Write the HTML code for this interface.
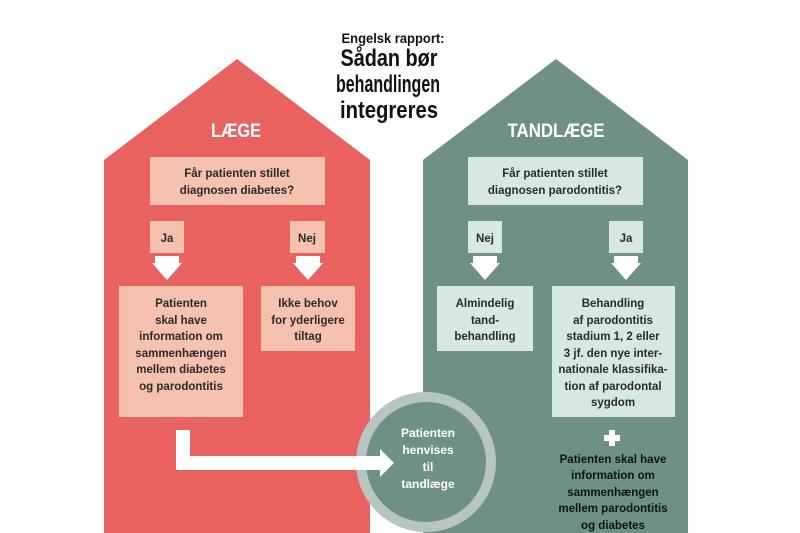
<!DOCTYPE html>
<html><head><meta charset="utf-8"><style>
body{margin:0;background:#fff;}
svg{display:block}
text{font-family:"Liberation Sans Narrow","Liberation Sans",sans-serif;font-weight:bold;text-anchor:middle;}
</style></head><body>
<svg width="800" height="533" viewBox="0 0 800 533" xmlns="http://www.w3.org/2000/svg">
<polygon points="104,160 237,59 370,160 370,533 104,533" fill="#e8625f"/>
<polygon points="423,160 556,59 688,160 688,533 423,533" fill="#6f9087"/>
<g fill="#111">
<text x="393" y="43" font-size="14" textLength="103" lengthAdjust="spacingAndGlyphs">Engelsk rapport:</text>
<text x="389" y="66" font-size="24" textLength="97" lengthAdjust="spacingAndGlyphs">Sådan bør</text>
<text x="388" y="92" font-size="24" textLength="104" lengthAdjust="spacingAndGlyphs">behandlingen</text>
<text x="389" y="118" font-size="24" textLength="98" lengthAdjust="spacingAndGlyphs">integreres</text>
</g>
<text x="236" y="137" font-size="19" fill="#fff" textLength="50" lengthAdjust="spacingAndGlyphs">LÆGE</text>
<text x="556" y="137" font-size="19" fill="#fff" textLength="97" lengthAdjust="spacingAndGlyphs">TANDLÆGE</text>
<g fill="#f6c1ae">
<rect x="150" y="157" width="175" height="48"/>
<rect x="150" y="221" width="34" height="32"/>
<rect x="290" y="221" width="35" height="32"/>
<rect x="119" y="286" width="124" height="131"/>
<rect x="261" y="286" width="94" height="65"/>
</g>
<g fill="#d6e8df">
<rect x="468" y="157" width="175" height="48"/>
<rect x="468" y="221" width="34" height="32"/>
<rect x="609" y="221" width="34" height="32"/>
<rect x="437" y="286" width="96" height="65"/>
<rect x="552" y="286" width="123" height="131"/>
</g>
<circle cx="426" cy="462" r="65" fill="#6f9087" stroke="#b6c6bf" stroke-width="10"/>
<g fill="#fff">
<path d="M152,263h30l-15,17z"/><rect x="155" y="256" width="24" height="8"/>
<path d="M293,263h30l-15,17z"/><rect x="296" y="256" width="24" height="8"/>
<path d="M470,263h30l-15,17z"/><rect x="473" y="256" width="24" height="8"/>
<path d="M611,263h30l-15,17z"/><rect x="614" y="256" width="24" height="8"/>
<rect x="176" y="430" width="14" height="40"/>
<rect x="176" y="456" width="206" height="14"/>
<path d="M380,449l14,14l-14,14z"/>
<rect x="609" y="430" width="6" height="16"/><rect x="604" y="435" width="16" height="6"/>
</g>
<g font-size="11.5" fill="#2a2a2a">
<text x="237" y="177">Får patienten stillet</text>
<text x="237" y="194">diagnosen diabetes?</text>
<text x="167" y="242">Ja</text>
<text x="307" y="242">Nej</text>
<text x="181" y="307">Patienten</text>
<text x="181" y="324">skal have</text>
<text x="181" y="340">information om</text>
<text x="181" y="357">sammenhængen</text>
<text x="181" y="373">mellem diabetes</text>
<text x="181" y="390">og parodontitis</text>
<text x="308" y="307">Ikke behov</text>
<text x="308" y="324">for yderligere</text>
<text x="308" y="340">tiltag</text>
<text x="555" y="177">Får patienten stillet</text>
<text x="555" y="194">diagnosen parodontitis?</text>
<text x="485" y="242">Nej</text>
<text x="626" y="242">Ja</text>
<text x="485" y="307">Almindelig</text>
<text x="485" y="324">tand-</text>
<text x="485" y="340">behandling</text>
<text x="613" y="307">Behandling</text>
<text x="613" y="324">af parodontitis</text>
<text x="613" y="340">stadium 1, 2 eller</text>
<text x="613" y="357">3 jf. den nye inter-</text>
<text x="613" y="373">nationale klassifika-</text>
<text x="613" y="390">tion af parodontal</text>
<text x="613" y="406">sygdom</text>
</g>
<g font-size="11.5" fill="#111">
<text x="613" y="463">Patienten skal have</text>
<text x="613" y="479">information om</text>
<text x="613" y="496">sammenhængen</text>
<text x="613" y="512">mellem parodontitis</text>
<text x="613" y="529">og diabetes</text>
</g>
<g font-size="12" fill="#fff">
<text x="428" y="437">Patienten</text>
<text x="428" y="454">henvises</text>
<text x="428" y="471">til</text>
<text x="428" y="488">tandlæge</text>
</g>
</svg>
</body></html>
